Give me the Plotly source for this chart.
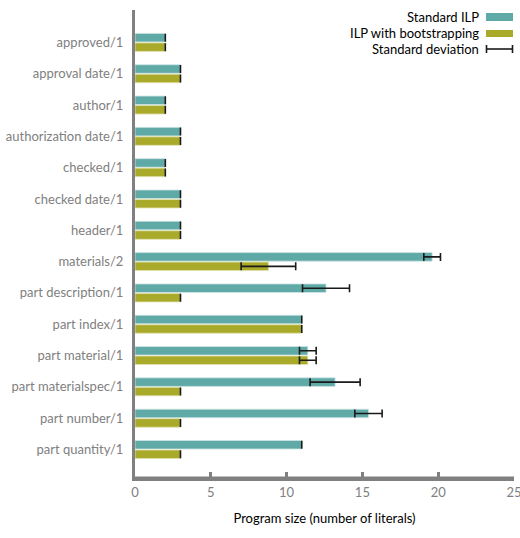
import plotly.graph_objects as go

categories = ["approved/1", "approval date/1", "author/1", "authorization date/1",
              "checked/1", "checked date/1", "header/1", "materials/2",
              "part description/1", "part index/1", "part material/1",
              "part materialspec/1", "part number/1", "part quantity/1"]
std_ilp = [2, 3, 2, 3, 2, 3, 3, 19.6, 12.6, 11, 11.4, 13.2, 15.4, 11]
std_ilp_sd = [0, 0, 0, 0, 0, 0, 0, 0.55, 1.55, 0, 0.55, 1.65, 0.9, 0]
boot = [2, 3, 2, 3, 2, 3, 3, 8.8, 3, 11, 11.4, 3, 3, 3]
boot_sd = [0, 0, 0, 0, 0, 0, 0, 1.8, 0, 0, 0.55, 0, 0, 0]
x_ticks = [0, 5, 10, 15, 20, 25]
legend_labels = ["Standard ILP", "ILP with bootstrapping", "Standard deviation"]

TEAL = "#5fa9a7"
OLIVE = "#a9a92a"
GRAY = "#808080"
FONT = "Lato"

fig = go.Figure()
fig.add_trace(go.Bar(
    y=categories, x=std_ilp, orientation="h", name=legend_labels[0],
    marker=dict(color=TEAL, line=dict(color="#cfe6e5", width=0.8)),
    error_x=dict(type="data", array=std_ilp_sd, visible=True,
                 color="#1a1a1a", thickness=1.6, width=4),
))
fig.add_trace(go.Bar(
    y=categories, x=boot, orientation="h", name=legend_labels[1],
    marker=dict(color=OLIVE, line=dict(color="#e3e3b5", width=0.8)),
    error_x=dict(type="data", array=boot_sd, visible=True,
                 color="#1a1a1a", thickness=1.6, width=4),
))

L, R, T, B = 135, 6, 10, 60
W, H = 520, 538
pw = W - L - R
ph = H - T - B

def px(x):
    return (x - L) / pw

def py(y):
    return 1 - (y - T) / ph

annotations = []
for lab, y in zip(legend_labels, [17, 33, 49]):
    annotations.append(dict(
        xref="paper", yref="paper", x=px(481), y=py(y), text=lab,
        showarrow=False, xanchor="right", yanchor="middle",
        font=dict(family=FONT, size=13, color="#000000"),
    ))

shapes = [
    dict(type="rect", xref="paper", yref="paper", x0=px(486), x1=px(513),
         y0=py(21), y1=py(13), fillcolor=TEAL, line=dict(width=0)),
    dict(type="rect", xref="paper", yref="paper", x0=px(486), x1=px(513),
         y0=py(37), y1=py(30), fillcolor=OLIVE, line=dict(width=0)),
    dict(type="line", xref="paper", yref="paper", x0=px(486), x1=px(513),
         y0=py(49), y1=py(49), line=dict(color="#1a1a1a", width=1.6)),
    dict(type="line", xref="paper", yref="paper", x0=px(486.5), x1=px(486.5),
         y0=py(45), y1=py(53), line=dict(color="#1a1a1a", width=1.6)),
    dict(type="line", xref="paper", yref="paper", x0=px(512.5), x1=px(512.5),
         y0=py(45), y1=py(53), line=dict(color="#1a1a1a", width=1.6)),
    # axis baseline (same as the x axis line)
    dict(type="line", xref="paper", yref="paper", x0=0, x1=1, y0=0, y1=0,
         line=dict(color=GRAY, width=3), layer="above"),
]

fig.update_layout(
    width=W, height=H,
    margin=dict(l=L, r=R, t=T, b=B, pad=0, autoexpand=False),
    paper_bgcolor="white", plot_bgcolor="white",
    barmode="group", bargap=0.395, bargroupgap=0.1,
    showlegend=False,
    font=dict(family=FONT, size=13, color=GRAY),
    annotations=annotations, shapes=shapes,
    xaxis=dict(
        range=[0, 25], tickvals=x_ticks, ticktext=[str(v) for v in x_ticks],
        showgrid=False, zeroline=False, automargin=False,
        showline=True, linecolor=GRAY, linewidth=3, mirror=False,
        ticks="inside", ticklen=6, tickwidth=3, tickcolor=GRAY,
        ticklabeloverflow="allow",
        tickfont=dict(family=FONT, size=13, color=GRAY),
        title=dict(text="Program size (number of literals)", standoff=16,
                   font=dict(family=FONT, size=13, color="#000000")),
    ),
    yaxis=dict(
        type="category", categoryorder="array", categoryarray=categories,
        range=[13.91, -1.035], automargin=False,
        showgrid=False, zeroline=False,
        showline=True, linecolor=GRAY, linewidth=3,
        ticks="", ticklabelstandoff=6,
        tickfont=dict(family=FONT, size=13, color=GRAY),
    ),
)

fig.write_html(
    "out.html",
    config={"displayModeBar": False},
    post_script="document.body.style.margin='0px';document.body.style.overflow='hidden';",
)
